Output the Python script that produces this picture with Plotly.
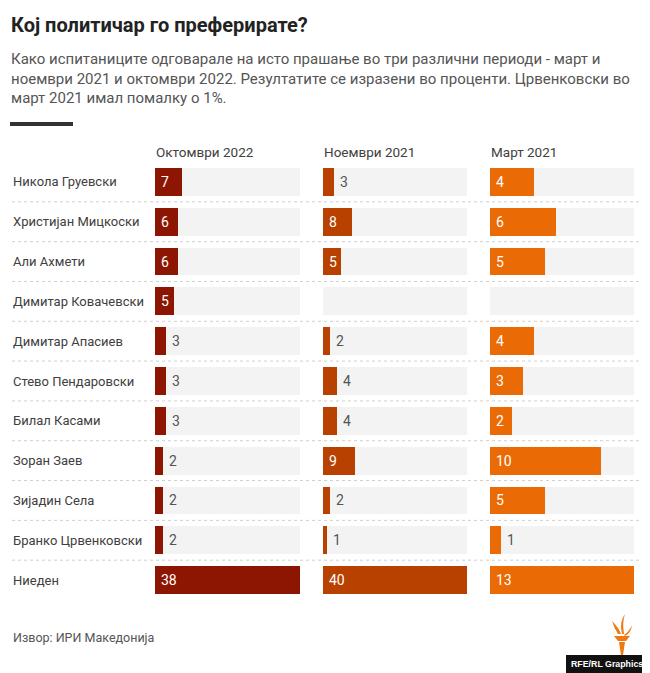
import plotly.graph_objects as go

# ---------------- data ----------------
names = ["Никола Груевски", "Христијан Мицкоски", "Али Ахмети", "Димитар Ковачевски",
         "Димитар Апасиев", "Стево Пендаровски", "Билал Касами", "Зоран Заев",
         "Зијадин Села", "Бранко Црвенковски", "Ниеден"]
periods = ["Октомври 2022", "Ноември 2021", "Март 2021"]
oct2022 = [7, 6, 6, 5, 3, 3, 3, 2, 2, 2, 38]
nov2021 = [3, 8, 5, None, 2, 4, 4, 9, 2, 1, 40]
mar2021 = [4, 6, 5, None, 4, 3, 2, 10, 5, 1, 13]
series = [oct2022, nov2021, mar2021]
colors = ["#8c1602", "#b84100", "#ea6b05"]

title = "Кој политичар го преферирате?"
subtitle_lines = ["Како испитаниците одговарале на исто прашање во три различни периоди - март и",
                  "ноември 2021 и октомври 2022. Резултатите се изразени во проценти. Црвенковски во",
                  "март 2021 имал помалку о 1%."]
source = "Извор: ИРИ Македонија"

# ---------------- layout helpers ----------------
W, H = 650, 673
OFF = 8  # page body margin compensation
FONT = "Roboto, sans-serif"
def xp(px): return (px - OFF) / W
def yp(py): return 1 - (py - OFF) / H

col_px = [(155, 300), (323, 467), (490, 634)]
n = len(names)
rows = list(range(n))

fig = go.Figure()
annotations = []
shapes = []

for i, (vals, col, (x0, x1)) in enumerate(zip(series, colors, col_px)):
    ax = "x" if i == 0 else f"x{i+1}"
    vmax = max(v for v in vals if v is not None)
    fig.add_trace(go.Bar(y=rows, x=[vmax] * n, orientation="h", xaxis=ax, yaxis="y",
                         marker=dict(color="#f3f3f3", line=dict(width=0)), width=0.7,
                         hoverinfo="skip", showlegend=False))
    fig.add_trace(go.Bar(y=rows, x=vals, orientation="h", xaxis=ax, yaxis="y",
                         marker=dict(color=col, line=dict(width=0)), width=0.7,
                         showlegend=False, name=periods[i]))
    colw = x1 - x0
    for r, v in enumerate(vals):
        if v is None:
            continue
        wpx = v / vmax * colw
        inside = wpx >= 17
        annotations.append(dict(x=0 if inside else v, y=r, xref=ax, yref="y", text=str(v),
                                showarrow=False, xanchor="left", xshift=4,
                                font=dict(color="white" if inside else "#555555", size=14, family=FONT)))
    annotations.append(dict(x=xp(x0), y=yp(152), xref="paper", yref="paper", text=periods[i],
                            showarrow=False, xanchor="left", yanchor="middle", xshift=-1,
                            font=dict(color="#404040", size=13.5, family=FONT)))
    fig.layout[("xaxis" if i == 0 else f"xaxis{i+1}")] = dict(
        domain=[xp(x0), xp(x1)], range=[0, vmax], visible=False, fixedrange=True, anchor="y")

for r, nm in enumerate(names):
    annotations.append(dict(x=xp(11), y=r, xref="paper", yref="y", text=nm, showarrow=False,
                            xanchor="left", font=dict(color="#404040", size=13, family=FONT)))
for r in range(n - 1):
    shapes.append(dict(type="line", xref="paper", yref="y", x0=xp(12), x1=xp(640),
                       y0=r + 0.5, y1=r + 0.5, line=dict(color="#d0d0d0", width=1, dash="dot")))

annotations.append(dict(x=xp(9), y=yp(24.5), xref="paper", yref="paper", text=f"<b>{title}</b>",
                        showarrow=False, xanchor="left", yanchor="middle",
                        font=dict(color="#222222", size=20, family=FONT)))
annotations.append(dict(x=xp(9), y=yp(78.5), xref="paper", yref="paper",
                        text="<br>".join(subtitle_lines),
                        showarrow=False, xanchor="left", yanchor="middle", align="left",
                        font=dict(color="#555555", size=15, family=FONT)))
shapes.append(dict(type="rect", xref="paper", yref="paper", x0=xp(10), x1=xp(73),
                   y0=yp(122), y1=yp(126), fillcolor="#333333", line=dict(width=0)))
annotations.append(dict(x=xp(11), y=yp(637), xref="paper", yref="paper", text=source,
                        showarrow=False, xanchor="left", yanchor="middle",
                        font=dict(color="#555555", size=12.5, family=FONT)))

# logo: torch
org = "#ee7a14"
def path(pts, close=True):
    s = "M " + " L ".join(f"{xp(a)} {yp(b)}" for a, b in pts)
    return s + (" Z" if close else "")
shapes.append(dict(type="path", xref="paper", yref="paper", fillcolor=org, line=dict(width=0),
                   path=f"M {xp(612)} {yp(621)} Q {xp(619)} {yp(628)} {xp(621)} {yp(634)} "
                        f"L {xp(618)} {yp(634)} Q {xp(614)} {yp(628)} {xp(612)} {yp(621)} Z"))
shapes.append(dict(type="path", xref="paper", yref="paper", fillcolor=org, line=dict(width=0),
                   path=f"M {xp(625)} {yp(614)} Q {xp(619)} {yp(622)} {xp(622)} {yp(634)} "
                        f"L {xp(624)} {yp(634)} Q {xp(622)} {yp(622)} {xp(625)} {yp(614)} Z"))
shapes.append(dict(type="path", xref="paper", yref="paper", fillcolor=org, line=dict(width=0),
                   path=f"M {xp(632)} {yp(625)} Q {xp(629)} {yp(632)} {xp(624)} {yp(635)} "
                        f"L {xp(625)} {yp(636)} Q {xp(631)} {yp(633)} {xp(632)} {yp(625)} Z"))
shapes.append(dict(type="path", xref="paper", yref="paper", fillcolor=org, line=dict(width=0),
                   path=path([(614, 636), (630, 636), (626, 641), (618, 641)])))
shapes.append(dict(type="path", xref="paper", yref="paper", fillcolor=org, line=dict(width=0),
                   path=path([(619, 642), (625, 642), (623, 655), (621, 655)])))
shapes.append(dict(type="rect", xref="paper", yref="paper", x0=xp(566), x1=xp(650),
                   y0=yp(673), y1=yp(655), fillcolor="#111111", line=dict(width=0)))
annotations.append(dict(x=xp(607), y=yp(664), xref="paper", yref="paper",
                        text="<b>RFE/RL Graphics</b>", showarrow=False, xanchor="center",
                        yanchor="middle",
                        font=dict(color="white", size=8.8, family="Liberation Sans, Arial, sans-serif")))

fig.update_layout(
    width=W, height=H, margin=dict(l=0, r=0, t=0, b=0),
    paper_bgcolor="white", plot_bgcolor="white",
    barmode="overlay", bargap=0,
    yaxis=dict(domain=[yp(600), yp(162)], range=[n - 0.5, -0.5], visible=False, fixedrange=True),
    annotations=annotations, shapes=shapes,
    font=dict(family=FONT),
)

fig.write_html("out.html")
